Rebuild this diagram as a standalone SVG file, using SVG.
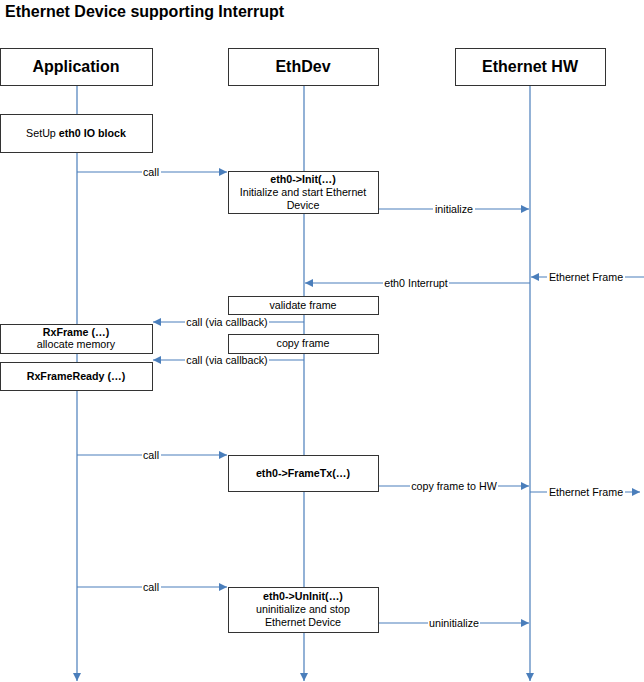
<svg xmlns="http://www.w3.org/2000/svg" width="644" height="682" viewBox="0 0 644 682">
  <style>
    .title { font: bold 16px "Liberation Sans", Arial, sans-serif; fill: #000; }
    .head { font: bold 16px "Liberation Sans", Arial, sans-serif; fill: #000; text-anchor: middle; }
    .box { fill: #fff; stroke: #333; stroke-width: 1; }
    .t { font: 10.7px "Liberation Sans", Arial, sans-serif; fill: #000; text-anchor: middle; }
    .b { font-weight: bold; }
    .msg { stroke: #4a7ebb; stroke-width: 1.2; fill: none; marker-end: url(#arr); }
    .lbl { font: 10.7px "Liberation Sans", Arial, sans-serif; fill: #000; text-anchor: middle; }
    .bg { fill: #fff; }
  </style>
  <defs>
    <marker id="arr" viewBox="0 0 10 10" refX="10" refY="5" markerWidth="8" markerHeight="8" markerUnits="userSpaceOnUse" orient="auto">
      <path d="M0,0 L10,5 L0,10 z" fill="#4a7ebb"/>
    </marker>
  </defs>
  <rect width="644" height="682" fill="#fff"/>
  <text class="title" x="5" y="17">Ethernet Device supporting Interrupt</text>

  <!-- lifelines -->
  <g id="lifelines">
    <line class="msg" x1="77" y1="85" x2="77" y2="681"/>
    <line class="msg" x1="304" y1="85" x2="304" y2="681"/>
    <line class="msg" x1="530" y1="85" x2="530" y2="681"/>
  </g>

  <!-- messages -->
  <g id="connectors">
    <line class="msg" x1="77" y1="172" x2="227" y2="172"/>
    <rect class="bg" x="142" y="166" width="19" height="11"/>
    <text class="lbl" x="151" y="175.5">call</text>

    <line class="msg" x1="378" y1="209" x2="529" y2="209"/>
    <rect class="bg" x="433" y="203" width="42" height="11"/>
    <text class="lbl" x="454" y="212.5">initialize</text>

    <line class="msg" x1="644" y1="277" x2="531" y2="277"/>
    <rect class="bg" x="547" y="271" width="78" height="11"/>
    <text class="lbl" x="586" y="280.5">Ethernet Frame</text>

    <line class="msg" x1="530" y1="283" x2="305" y2="283"/>
    <rect class="bg" x="383" y="277" width="66" height="11"/>
    <text class="lbl" x="416" y="286.5">eth0 Interrupt</text>

    <line class="msg" x1="304" y1="322" x2="153" y2="322"/>
    <rect class="bg" x="185" y="316" width="84" height="11"/>
    <text class="lbl" x="227" y="325.5">call (via callback)</text>

    <line class="msg" x1="304" y1="360" x2="153" y2="360"/>
    <rect class="bg" x="185" y="354" width="84" height="11"/>
    <text class="lbl" x="227" y="363.5">call (via callback)</text>

    <line class="msg" x1="77" y1="455" x2="227" y2="455"/>
    <rect class="bg" x="142" y="449" width="19" height="11"/>
    <text class="lbl" x="151" y="458.5">call</text>

    <line class="msg" x1="378" y1="486" x2="529" y2="486"/>
    <rect class="bg" x="410" y="480" width="88" height="11"/>
    <text class="lbl" x="454" y="489.5">copy frame to HW</text>

    <line class="msg" x1="530" y1="492" x2="640" y2="492"/>
    <rect class="bg" x="547" y="486" width="78" height="11"/>
    <text class="lbl" x="586" y="495.5">Ethernet Frame</text>

    <line class="msg" x1="77" y1="587" x2="227" y2="587"/>
    <rect class="bg" x="142" y="581" width="19" height="11"/>
    <text class="lbl" x="151" y="590.5">call</text>

    <line class="msg" x1="378" y1="623" x2="529" y2="623"/>
    <rect class="bg" x="428" y="617" width="52" height="11"/>
    <text class="lbl" x="454" y="626.5">uninitialize</text>
  </g>

  <!-- participant headers -->
  <g id="application">
    <rect class="box" x="0.5" y="48.5" width="152" height="37"/>
    <text class="head" x="76" y="72">Application</text>
  </g>
  <g id="ethdev">
    <rect class="box" x="228.5" y="48.5" width="150" height="37"/>
    <text class="head" x="303" y="72">EthDev</text>
  </g>
  <g id="ethernet-hw">
    <rect class="box" x="455.5" y="48.5" width="150" height="37"/>
    <text class="head" x="530" y="72">Ethernet HW</text>
  </g>

  <!-- activity boxes -->
  <g id="setup">
    <rect class="box" x="0.5" y="114.5" width="152" height="38"/>
    <text class="t" x="76" y="137">SetUp <tspan class="b">eth0 IO block</tspan></text>
  </g>
  <g id="init">
    <rect class="box" x="228.5" y="171.5" width="150" height="42"/>
    <text class="t b" x="303" y="183">eth0-&gt;Init(…)</text>
    <text class="t" x="303" y="196">Initialize and start Ethernet</text>
    <text class="t" x="303" y="209">Device</text>
  </g>
  <g id="validate">
    <rect class="box" x="228.5" y="296.5" width="150" height="18"/>
    <text class="t" x="303" y="308.5">validate frame</text>
  </g>
  <g id="rxframe">
    <rect class="box" x="0.5" y="324.5" width="152" height="29"/>
    <text class="t b" x="76" y="335.5">RxFrame (…)</text>
    <text class="t" x="76" y="348">allocate memory</text>
  </g>
  <g id="copy">
    <rect class="box" x="228.5" y="334.5" width="150" height="19"/>
    <text class="t" x="303" y="347">copy frame</text>
  </g>
  <g id="rxframeready">
    <rect class="box" x="0.5" y="362.5" width="152" height="28"/>
    <text class="t b" x="76" y="380">RxFrameReady (…)</text>
  </g>
  <g id="frametx">
    <rect class="box" x="228.5" y="455.5" width="150" height="36"/>
    <text class="t b" x="303" y="477">eth0-&gt;FrameTx(…)</text>
  </g>
  <g id="uninit">
    <rect class="box" x="228.5" y="587.5" width="150" height="45"/>
    <text class="t b" x="303" y="600">eth0-&gt;UnInit(…)</text>
    <text class="t" x="303" y="613">uninitialize and stop</text>
    <text class="t" x="303" y="626">Ethernet Device</text>
  </g>
</svg>
